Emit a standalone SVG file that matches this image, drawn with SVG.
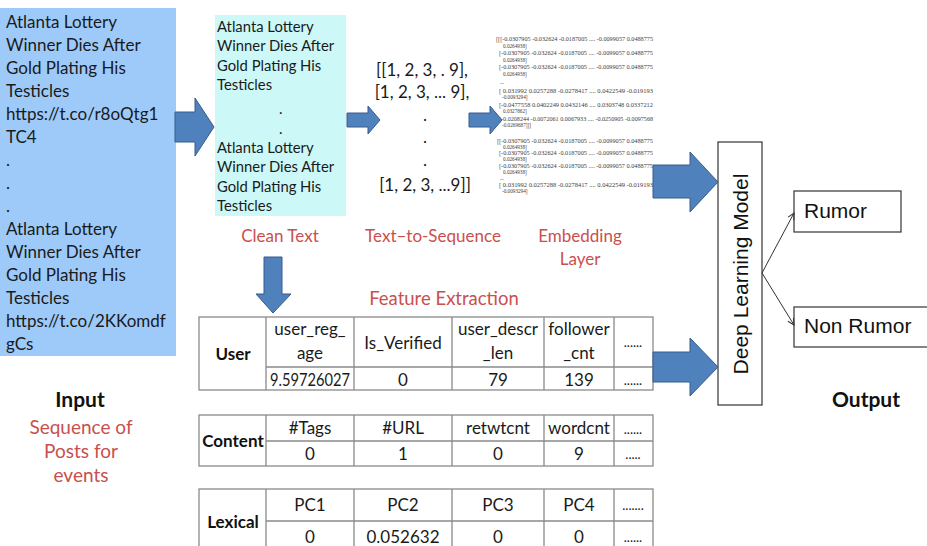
<svg xmlns="http://www.w3.org/2000/svg" width="927" height="546" viewBox="0 0 927 546">
  <style>
    .txt { font-family: Lato, "Open Sans", "Liberation Sans", sans-serif; fill: #1a1a1a; }
    .red { font-family: Lato, "Open Sans", "Liberation Sans", sans-serif; fill: #c9504d; }
    .bold { font-family: Lato, "Open Sans", "Liberation Sans", sans-serif; font-weight: bold; fill: #111; }
    .arial { font-family: "Liberation Sans", Arial, sans-serif; fill: #111; }
    .emb { font-family: "Liberation Serif", serif; font-size: 5.2px; fill: #3c3c3c; }
    .blk { fill: #4f81bd; stroke: #385d8a; stroke-width: 1; }
    .cell { fill: #fff; stroke: #8a8a8a; stroke-width: 1.3; }
    .grid { stroke: #8a8a8a; stroke-width: 1.3; }
    .box { fill: #fff; stroke: #333; stroke-width: 1.2; }
    .link { stroke: #333; stroke-width: 1; fill: none; }
    .c { text-anchor: middle; }
  </style>
  <defs>
    <marker id="open" viewBox="0 0 10 10" refX="9" refY="5" markerWidth="8" markerHeight="8" orient="auto">
      <path d="M1,1 L9,5 L1,9" fill="none" stroke="#333" stroke-width="1.2"/>
    </marker>
  </defs>

  <rect width="927" height="546" fill="#fff"/>

  <!-- input posts -->
  <g id="input-posts">
    <rect x="0" y="8" width="176" height="348" fill="#9ecaf9"/>
    <g class="txt" font-size="17">
      <text x="6" y="28">Atlanta Lottery</text>
      <text x="6" y="51">Winner Dies After</text>
      <text x="6" y="74">Gold Plating His</text>
      <text x="6" y="97">Testicles</text>
      <text x="6" y="120">https://t.co/r8oQtg1</text>
      <text x="6" y="143">TC4</text>
      <text x="6" y="166">.</text>
      <text x="6" y="189">.</text>
      <text x="6" y="212">.</text>
      <text x="6" y="235">Atlanta Lottery</text>
      <text x="6" y="258">Winner Dies After</text>
      <text x="6" y="281">Gold Plating His</text>
      <text x="6" y="304">Testicles</text>
      <text x="6" y="327">https://t.co/2KKomdf</text>
      <text x="6" y="350">gCs</text>
    </g>
  </g>

  <g id="input-label">
    <text class="bold c" x="80" y="407" font-size="21">Input</text>
    <g class="red c" font-size="19">
      <text x="81" y="434">Sequence of</text>
      <text x="81" y="458">Posts for</text>
      <text x="81" y="482">events</text>
    </g>
  </g>

  <!-- clean text -->
  <g id="clean-text">
    <rect x="215" y="15" width="131" height="201" fill="#ccf8f8"/>
    <g class="txt" font-size="14.8">
      <text x="217" y="32">Atlanta Lottery</text>
      <text x="217" y="51">Winner Dies After</text>
      <text x="217" y="71">Gold Plating His</text>
      <text x="217" y="90">Testicles</text>
      <text x="279" y="114">.</text>
      <text x="279" y="134">.</text>
      <text x="217" y="153">Atlanta Lottery</text>
      <text x="217" y="172">Winner Dies After</text>
      <text x="217" y="192">Gold Plating His</text>
      <text x="217" y="211">Testicles</text>
    </g>
    <text class="red c" x="280" y="242" font-size="17">Clean Text</text>
  </g>

  <!-- text to sequence -->
  <g id="sequence">
    <g class="txt c" font-size="17">
      <text x="422" y="76">[[1, 2, 3, . 9],</text>
      <text x="422" y="98">[1, 2, 3, ... 9],</text>
      <text x="425" y="121">.</text>
      <text x="425" y="143">.</text>
      <text x="425" y="166">.</text>
      <text x="425" y="191">[1, 2, 3, ...9]]</text>
    </g>
    <text class="red c" x="433" y="242" font-size="17">Text–to-Sequence</text>
  </g>

  <!-- embedding layer -->
  <g id="embedding">
    <g class="emb">
      <text x="496" y="41" textLength="157" lengthAdjust="spacingAndGlyphs">[[[-0.0307905 -0.032624 -0.0187005 .... -0.0099057 0.0488775</text>
      <text x="503" y="48">0.0264938]</text>
      <text x="499" y="55" textLength="154" lengthAdjust="spacingAndGlyphs">[-0.0307905 -0.032624 -0.0187005 .... -0.0099057 0.0488775</text>
      <text x="503" y="62">0.0264938]</text>
      <text x="499" y="69" textLength="154" lengthAdjust="spacingAndGlyphs">[-0.0307905 -0.032624 -0.0187005 .... -0.0099057 0.0488775</text>
      <text x="503" y="76">0.0264938]</text>
      <text x="500" y="84">...</text>
      <text x="499" y="93" textLength="154" lengthAdjust="spacingAndGlyphs">[ 0.031992 0.0257288 -0.0278417 .... 0.0422549 -0.019193</text>
      <text x="502" y="99">-0.0093294]</text>
      <text x="499" y="107" textLength="154" lengthAdjust="spacingAndGlyphs">[-0.0477558 0.0402249 0.0432146 .... 0.0303748 0.0337212</text>
      <text x="503" y="113">0.0327862]</text>
      <text x="499" y="121" textLength="154" lengthAdjust="spacingAndGlyphs">[-0.0208244 -0.0072061 0.0067933 .... -0.0250905 -0.0097568</text>
      <text x="502" y="127">-0.0269687]]]</text>
      <text x="497" y="143" textLength="156" lengthAdjust="spacingAndGlyphs">[[-0.0307905 -0.032624 -0.0187005 .... -0.0099057 0.0488775</text>
      <text x="503" y="149">0.0264938]</text>
      <text x="499" y="155" textLength="154" lengthAdjust="spacingAndGlyphs">[-0.0307905 -0.032624 -0.0187005 .... -0.0099057 0.0488775</text>
      <text x="503" y="161">0.0264938]</text>
      <text x="499" y="168" textLength="154" lengthAdjust="spacingAndGlyphs">[-0.0307905 -0.032624 -0.0187005 .... -0.0099057 0.0488775</text>
      <text x="503" y="174">0.0264938]</text>
      <text x="500" y="180">...</text>
      <text x="499" y="187" textLength="154" lengthAdjust="spacingAndGlyphs">[ 0.031992 0.0257288 -0.0278417 .... 0.0422549 -0.019193</text>
      <text x="502" y="193">-0.0093294]</text>
    </g>
    <g class="red c" font-size="17">
      <text x="580" y="242">Embedding</text>
      <text x="580" y="265">Layer</text>
    </g>
  </g>

  <!-- feature extraction tables -->
  <text class="red c" x="444" y="305" font-size="18.5">Feature Extraction</text>

  <g id="user-table">
    <rect class="cell" x="199" y="317" width="454" height="73"/>
    <path class="grid" d="M266,317V390M354,317V390M452,317V390M544,317V390M614,317V390M266,367H653"/>
    <text class="bold c" x="233" y="360" font-size="17">User</text>
    <g class="txt c" font-size="17">
      <text x="310" y="335">user_reg_</text>
      <text x="310" y="359">age</text>
      <text x="403" y="349">Is_Verified</text>
      <text x="498" y="335">user_descr</text>
      <text x="498" y="359">_len</text>
      <text x="579" y="335">follower</text>
      <text x="579" y="359">_cnt</text>
      <text x="633" y="347" font-size="13">......</text>
      <text x="310" y="386" textLength="80" lengthAdjust="spacingAndGlyphs">9.59726027</text>
      <text x="403" y="386">0</text>
      <text x="498" y="386">79</text>
      <text x="579" y="386">139</text>
      <text x="633" y="385" font-size="13">......</text>
    </g>
  </g>

  <g id="content-table">
    <rect class="cell" x="199" y="415" width="454" height="51"/>
    <path class="grid" d="M266,415V466M354,415V466M452,415V466M544,415V466M614,415V466M266,441H653"/>
    <text class="bold c" x="233" y="447" font-size="17">Content</text>
    <g class="txt c" font-size="17">
      <text x="310" y="434">#Tags</text>
      <text x="403" y="434">#URL</text>
      <text x="498" y="434">retwtcnt</text>
      <text x="579" y="434">wordcnt</text>
      <text x="633" y="434" font-size="13">......</text>
      <text x="310" y="460">0</text>
      <text x="403" y="460">1</text>
      <text x="498" y="460">0</text>
      <text x="579" y="460">9</text>
      <text x="633" y="459" font-size="13">.....</text>
    </g>
  </g>

  <g id="lexical-table">
    <rect class="cell" x="199" y="489" width="454" height="66"/>
    <path class="grid" d="M266,489V555M354,489V555M452,489V555M544,489V555M614,489V555M266,521H653"/>
    <text class="bold c" x="233" y="528" font-size="17">Lexical</text>
    <g class="txt c" font-size="17">
      <text x="310" y="511">PC1</text>
      <text x="403" y="511">PC2</text>
      <text x="498" y="511">PC3</text>
      <text x="579" y="511">PC4</text>
      <text x="633" y="510" font-size="13">.......</text>
      <text x="310" y="543">0</text>
      <text x="403" y="543">0.052632</text>
      <text x="498" y="543">0</text>
      <text x="579" y="543">0</text>
      <text x="633" y="542" font-size="13">......</text>
    </g>
  </g>

  <!-- model and outputs -->
  <g id="deep-learning-model">
    <rect class="box" x="718" y="142" width="44" height="263"/>
    <text class="arial c" x="740" y="274" font-size="21" dominant-baseline="central" transform="rotate(-90 740 274)">Deep Learning Model</text>
  </g>

  <g id="rumor">
    <rect class="box" x="794" y="191" width="107" height="41"/>
    <text class="arial" x="804" y="218" font-size="21">Rumor</text>
  </g>

  <g id="non-rumor">
    <rect class="box" x="794" y="307" width="140" height="40"/>
    <text class="arial" x="804" y="333" font-size="21">Non Rumor</text>
  </g>

  <text class="bold c" x="866" y="407" font-size="21">Output</text>

  <!-- connectors -->
  <g id="connectors">
    <path class="blk" d="M175,112H195V98L214,127L195,156V142H175Z"/>
    <path class="blk" d="M347,113H368V106L380,120L368,134V127H347Z"/>
    <path class="blk" d="M469,113H490V106L502,120L490,134V127H469Z"/>
    <path class="blk" d="M264,257H282V294H291L273,313L256,294H264Z"/>
    <path class="blk" d="M653,165H690V152L718,182L690,212V198H653Z"/>
    <path class="blk" d="M653,352H690V338L718,367L690,396V382H653Z"/>
    <line class="link" x1="762" y1="273" x2="794" y2="213" marker-end="url(#open)"/>
    <line class="link" x1="762" y1="273" x2="794" y2="325" marker-end="url(#open)"/>
  </g>
</svg>
